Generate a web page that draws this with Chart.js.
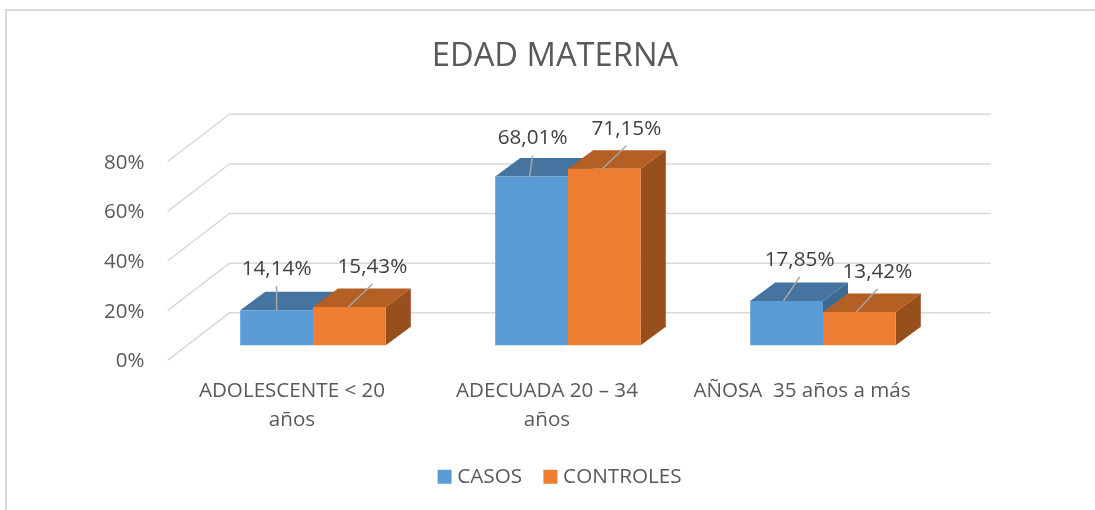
<!DOCTYPE html>
<html lang="es">
<head>
<meta charset="utf-8">
<title>EDAD MATERNA</title>
<script src="https://cdn.jsdelivr.net/npm/chart.js@4"></script>
<style>
html,body{margin:0;padding:0;background:#fff;overflow:hidden}
#frame{position:absolute;left:5px;top:9px;right:0;bottom:0;border-top:2px solid #d9d9d9;border-left:2px solid #d9d9d9}
canvas{position:absolute;left:0;top:0}
</style>
</head>
<body>
<div id="frame"></div>
<canvas id="c" width="1095" height="510"></canvas>
<script>
const categories = [["ADOLESCENTE < 20", "años"], ["ADECUADA 20 – 34", "años"], "AÑOSA  35 años a más"];
const casos = [14.14, 68.01, 17.85];
const controles = [15.43, 71.15, 13.42];
const yTicks = [0, 20, 40, 60, 80];

const FONT = '"Open Sans", sans-serif';
const STYLE = {
  front: ['#5B9BD5', '#ED7D31'],
  top: ['#44749F', '#B45F23'],
  side: ['#3C6A90', '#974F1C']
};
/* leader lines: offsets from the top centre of each bar */
const LEADER_START = [[0, -2, -3], [-1, -2, -3]];
const LEADER_END = [[[0, -24], [1, -21], [13, -24]], [[23, -23], [22, -23], [18, -23]]];
const PLANE = {dx: 18, dy: -15};   /* bars stand this far into the floor */
const DEPTH = {dx: 25, dy: -18.5}; /* bar depth */
const WALL = {dx: 62, dy: -47.5, rightDx: 58.5};

const fmt = v => v.toFixed(2).replace('.', ',') + '%';

const bars3d = {
  id: 'bars3d',
  afterLayout(chart) {
    const t = chart.titleBlock, l = chart.legend;
    const tc = 555 - (t.left + t.right) / 2;
    t.left += tc; t.right += tc;
    const lc = 562 - (l.left + l.right) / 2;
    l.left += lc; l.right += lc;
  },
  beforeDatasetsDraw(chart) {
    const {ctx, chartArea: a, scales: {y}} = chart;
    ctx.save();
    ctx.strokeStyle = '#d9d9d9';
    ctx.lineWidth = 1.5;
    yTicks.forEach(v => {
      const p = y.getPixelForValue(v);
      ctx.beginPath();
      ctx.moveTo(a.left, p);
      ctx.lineTo(a.left + WALL.dx, p + WALL.dy);
      ctx.lineTo(a.right + WALL.rightDx, p + WALL.dy);
      ctx.stroke();
    });
    ctx.restore();
    /* painted back to front: CASOS first, CONTROLES over it */
    chart.data.datasets.forEach((ds, i) => {
      const meta = chart.getDatasetMeta(i);
      ctx.save();
      ctx.translate(PLANE.dx, PLANE.dy);
      meta.data.forEach(b => {
        const l = b.x - b.width / 2, r = b.x + b.width / 2, t = b.y, bt = b.base;
        ctx.fillStyle = STYLE.top[i];
        ctx.beginPath();
        ctx.moveTo(l, t);
        ctx.lineTo(l + DEPTH.dx, t + DEPTH.dy);
        ctx.lineTo(r + DEPTH.dx, t + DEPTH.dy);
        ctx.lineTo(r, t);
        ctx.closePath();
        ctx.fill();
        ctx.fillStyle = STYLE.side[i];
        ctx.beginPath();
        ctx.moveTo(r, t);
        ctx.lineTo(r + DEPTH.dx, t + DEPTH.dy);
        ctx.lineTo(r + DEPTH.dx, bt + DEPTH.dy);
        ctx.lineTo(r, bt);
        ctx.closePath();
        ctx.fill();
      });
      meta.controller.draw();
      ctx.restore();
    });
  },
  beforeDatasetDraw() {
    return false; /* already painted above, in depth order */
  },
  afterDatasetsDraw(chart) {
    const {ctx} = chart;
    ctx.save();
    chart.data.datasets.forEach((ds, i) => {
      chart.getDatasetMeta(i).data.forEach((b, j) => {
        const cx = b.x + PLANE.dx, ty = b.y + PLANE.dy;
        const ex = cx + LEADER_END[i][j][0], ey = ty + LEADER_END[i][j][1];
        ctx.strokeStyle = '#a6a6a6';
        ctx.lineWidth = 1.5;
        ctx.beginPath();
        ctx.moveTo(cx + LEADER_START[i][j], ty);
        ctx.lineTo(ex, ey);
        ctx.stroke();
        ctx.fillStyle = '#404040';
        ctx.font = '20.7px ' + FONT;
        ctx.textAlign = 'center';
        ctx.textBaseline = 'middle';
        ctx.fillText(fmt(ds.data[j]), ex, ey - 17);
      });
    });
    ctx.restore();
  }
};

new Chart(document.getElementById('c'), {
  type: 'bar',
  data: {
    labels: categories,
    datasets: [
      {label: 'CASOS', data: casos, backgroundColor: STYLE.front[0]},
      {label: 'CONTROLES', data: controles, backgroundColor: STYLE.front[1]}
    ]
  },
  options: {
    responsive: false,
    animation: false,
    layout: {padding: {left: 0, right: 162.5, top: 0, bottom: 13}},
    datasets: {bar: {categoryPercentage: 0.571, barPercentage: 1}},
    scales: {
      x: {
        afterFit(s) { s.height = 80; },
        grid: {display: false},
        border: {display: false},
        ticks: {
          color: '#595959',
          font: {family: FONT, size: 20.6, lineHeight: 1.42},
          padding: 8,
          labelOffset: -3,
          maxRotation: 0,
          autoSkip: false
        }
      },
      y: {
        min: 0,
        max: 80,
        afterFit(s) { s.width = 167.5; },
        afterBuildTicks(s) { s.ticks = yTicks.map(value => ({value})); },
        grid: {display: false},
        border: {display: false},
        ticks: {
          color: '#595959',
          font: {family: FONT, size: 20.5},
          padding: 15,
          labelOffset: 1,
          callback: v => v + '%'
        }
      }
    },
    plugins: {
      tooltip: {enabled: false},
      title: {
        display: true,
        text: 'EDAD MATERNA',
        color: '#595959',
        font: {family: FONT, size: 32.7, weight: 'normal'},
        padding: {top: 37, bottom: 85.5}
      },
      legend: {
        display: true,
        position: 'bottom',
        labels: {
          color: '#595959',
          font: {family: FONT, size: 20.7},
          usePointStyle: true,
          pointStyle: 'rect',
          boxWidth: 4.6,
          boxHeight: 14,
          padding: 26
        }
      }
    }
  },
  plugins: [bars3d]
});
</script>
</body>
</html>
